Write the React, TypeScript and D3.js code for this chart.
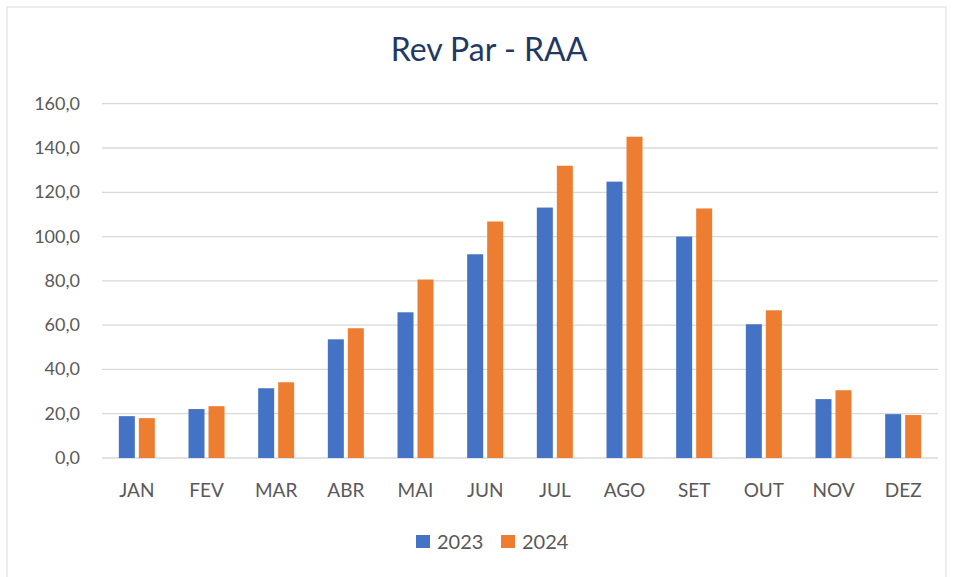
import React from 'react';
import * as d3 from 'd3';

const months = ['JAN', 'FEV', 'MAR', 'ABR', 'MAI', 'JUN', 'JUL', 'AGO', 'SET', 'OUT', 'NOV', 'DEZ'];
const series2023 = [18.9, 22.1, 31.5, 53.6, 65.8, 92.0, 113.1, 124.8, 100.0, 60.4, 26.6, 19.8];
const series2024 = [18.0, 23.4, 34.2, 58.6, 80.6, 106.8, 132.0, 145.1, 112.7, 66.7, 30.6, 19.4];
const seriesNames = ['2023', '2024'];
const yTicks = [0, 20, 40, 60, 80, 100, 120, 140, 160];

const colors = ['#4472C4', '#ED7D31'];
const font = 'Lato, "Open Sans", sans-serif';

export default function App() {
  const width = 959;
  const height = 577;
  const plot = { left: 102, right: 938, top: 103.7, bottom: 458 };

  const x = d3.scaleBand().domain(months).range([plot.left, plot.right]);
  const y = d3.scaleLinear().domain([0, 160]).range([plot.bottom, plot.top]);
  const barW = 16;
  const gap = 4;
  const fmt = (v: number) => d3.format('.1f')(v).replace('.', ',');

  const allSeries = [series2023, series2024];

  return (
    <svg width={width} height={height} style={{ position: 'absolute', left: 0, top: 0 }}>
      <rect x={0} y={0} width={width} height={height} fill='#ffffff' />
      {/* frame */}
      <rect x={7} y={7} width={939} height={580} fill='none' stroke='#d9d9d9' strokeWidth={1} />

      {/* title */}
      <text x={489} y={61} textAnchor='middle' fontFamily={font} fontSize={32} fill='#1F3864'>
        Rev Par - RAA
      </text>

      {/* grid */}
      <g>
        {yTicks.map(t => (
          <g key={t}>
            <line x1={plot.left} x2={plot.right} y1={y(t)} y2={y(t)} stroke='#d9d9d9' strokeWidth={1.3} />
            <text x={80} y={y(t) + 6} textAnchor='end' fontFamily={font} fontSize={18} fill='#595959'>
              {fmt(t)}
            </text>
          </g>
        ))}
      </g>

      {/* bars */}
      {allSeries.map((s, si) => (
        <g key={si}>
          {s.map((v, i) => {
            const cx = (x(months[i]) as number) + x.bandwidth() / 2;
            const bx = si === 0 ? cx - gap / 2 - barW : cx + gap / 2;
            return (
              <rect key={i} x={bx} y={y(v)} width={barW} height={plot.bottom - y(v)} fill={colors[si]} />
            );
          })}
        </g>
      ))}

      {/* category labels */}
      {months.map(m => (
        <text key={m} x={(x(m) as number) + x.bandwidth() / 2} y={497} textAnchor='middle' fontFamily={font} fontSize={19} fill='#595959'>
          {m}
        </text>
      ))}

      {/* legend */}
      {seriesNames.map((n, i) => (
        <g key={n} transform={`translate(${416 + i * 85},535)`}>
          <rect x={0} y={0} width={14} height={13} fill={colors[i]} />
          <text x={21} y={14} fontFamily={font} fontSize={20} fill='#595959'>{n}</text>
        </g>
      ))}
    </svg>
  );
}
